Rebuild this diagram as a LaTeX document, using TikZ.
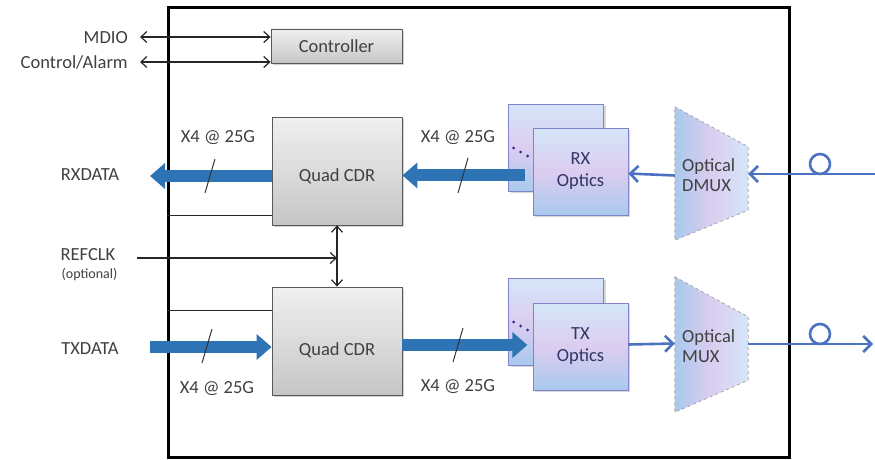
\documentclass[tikz,border=0pt]{standalone}
\usepackage{fontspec}
\setmainfont{Carlito}
\usetikzlibrary{arrows.meta,shadows,calc}

\definecolor{ink}{HTML}{404040}
\definecolor{fatblue}{HTML}{2E74B5}
\definecolor{thinblue}{HTML}{4A72C0}
\definecolor{optlight}{HTML}{D4E6F8}
\definecolor{optmid}{HTML}{DCCDF0}
\definecolor{optdark}{HTML}{A9C9EE}

\tikzset{
  lbl/.style={text=ink, font=\fontsize{18.5}{20}\selectfont, inner sep=0pt},
  small/.style={text=ink, font=\fontsize{14}{16}\selectfont, inner sep=0pt},
  graybox/.style={draw=gray!70!black, line width=0.8pt,
    top color=gray!12, bottom color=gray!45, middle color=gray!28,
    drop shadow={shadow xshift=2pt, shadow yshift=-2pt, opacity=0.35},
    text=ink, font=\fontsize{18.5}{20}\selectfont},
  optbox/.style={draw=gray!60!blue!70, line width=0.8pt,
    top color=optlight, bottom color=optdark, middle color=optmid,
    drop shadow={shadow xshift=2pt, shadow yshift=-2pt, opacity=0.3},
    minimum width=95pt, minimum height=87pt, align=center,
    text=ink!80!blue, font=\fontsize{18.5}{22}\selectfont},
  ctl/.style={draw=black!85, line width=1.2pt},
  dbl/.style={ctl, {Straight Barb[length=6pt,width=11pt]}-{Straight Barb[length=6pt,width=11pt]}},
  single/.style={ctl, -{Straight Barb[length=6pt,width=11pt]}},
  fat/.style={draw=fatblue, line width=12pt, -{Triangle[length=15pt,width=25pt]}},
  slash/.style={draw=black!80, line width=1pt},
  fiber/.style={draw=thinblue, line width=2.6pt, -{Straight Barb[length=8pt,width=16pt]}},
  fiberline/.style={draw=thinblue, line width=2.6pt},
  muxshape/.style={left color=optdark, right color=optlight, middle color=optmid,
    draw=gray!70, dashed, line width=0.8pt},
}

\begin{document}
\begin{tikzpicture}[x=1pt,y=-1pt]
\useasboundingbox[fill=white] (0,0) rectangle (875,460);

% module outline
\node[draw=black, line width=3pt, minimum width=621pt, minimum height=449pt,
      inner sep=0pt] (board) at (478.5,232.5) {};

% controller and the two CDR blocks
\node[graybox, minimum width=131pt, minimum height=34pt] (ctrl) at (336.5,46) {Controller};
\node[graybox, minimum width=130pt, minimum height=108pt] (cdr1) at (337,171) {};
\node[lbl] at (337,176) {Quad CDR};
\node[graybox, minimum width=130pt, minimum height=108pt] (cdr2) at (337,341) {};
\node[lbl] at (337,350) {Quad CDR};

% optics, stacked to show several lanes
\node[optbox] (rxback) at (556,147.5) {};
\node[optbox] (txback) at (556,321.5) {};
\foreach \y in {148,322}{
  \fill[ink!60!blue] (513.5,\y) circle (1.5pt) (520.5,\y+4) circle (1.5pt) (527.5,\y+8) circle (1.5pt);
}

% optical demultiplexer and multiplexer
\node[minimum width=73pt, minimum height=133pt, inner sep=0pt] (dmux) at (711.5,173.5) {};
\path[muxshape] (dmux.north west) -- ($(dmux.north east)+(0,40)$) -- ($(dmux.south east)+(0,-30)$)
  -- (dmux.south west) -- cycle;
\node[lbl, align=left, anchor=west] at (682,175) {Optical\\DMUX};
\node[minimum width=73pt, minimum height=135pt, inner sep=0pt] (mux) at (711.5,344.5) {};
\path[muxshape] (mux.north west) -- ($(mux.north east)+(0,40)$) -- ($(mux.south east)+(0,-32)$)
  -- (mux.south west) -- cycle;
\node[lbl, align=left, anchor=west] at (682,346) {Optical\\MUX};

% outside labels
\node[lbl, anchor=east] (mdio) at (128,38) {MDIO};
\node[lbl, anchor=east] (ctlalarm) at (128,62) {Control/Alarm};
\node[lbl] (rxdata) at (90,175) {RXDATA};
\node[lbl] (refclk) at (88,255) {REFCLK};
\node[small] (opt) at (89.5,275) {(optional)};
\node[lbl] (txdata) at (90,349) {TXDATA};

% management and clock signals
\coordinate (mdioS) at (140,37);
\coordinate (alarmS) at (140,62);
\draw[dbl] (mdioS) -- (mdioS -| ctrl.west);
\draw[dbl] (alarmS) -- (alarmS -| ctrl.west);
\draw[dbl] (cdr1.south) -- (cdr2.north);
\coordinate (refS) at (137,258);
\draw[single] (refS) -- (refS -| cdr1.south);
\draw[ctl] ($(cdr1.south west)+(0,-10)$) coordinate (u) -- (u -| board.west);
\draw[ctl] ($(cdr2.north west)+(0,24)$) coordinate (l) -- (l -| board.west);

% electrical data lanes
\coordinate (rxE) at (150,176);
\coordinate (txS) at (150,347);
\draw[fat] ($(cdr1.west)+(0,5)$) -- (rxE);
\draw[fat] (txS) -- (txS -| cdr2.west);
\draw[fat] ($(rxback.south east)+(-79,-16)$) coordinate (rxS) -- (rxS -| cdr1.east);
\draw[fat, shorten >=0pt] ($(cdr2.east)+(0,4)$) -- ++(125,0) coordinate (txE);

% lane-count marks
\draw[slash] (205,193) -- (215,159);
\draw[slash] (202,363) -- (212,329);
\draw[slash] (458,193) -- (468,158);
\draw[slash] (453,362) -- (463,328);
\node[lbl] at (218,138) {X4 @ 25G};
\node[lbl] at (217,389) {X4 @ 25G};
\node[lbl] at (458,138) {X4 @ 25G};
\node[lbl] at (458,387) {X4 @ 25G};

% front optics drawn over the lane arrows
\node[optbox] (rx) at (580.5,171.5) {RX\\Optics};
\node[optbox] (tx) at (580.5,346.5) {TX\\Optics};

% optical paths
\draw[fiber] ($(dmux.west)+(0,2)$) -- ($(rx.east)+(0,2)$);
\coordinate (fin) at (875,174);
\draw[fiber] (fin) -- (fin -| dmux.east);
\draw[fiber] ($(tx.east)+(0,-2)$) -- ($(mux.west)+(0,-1)$);
\coordinate (fout) at (873,344);
\draw[fiber] ($(mux.east)+(0,-0.5)$) -- (fout);
\draw[fiberline] (820,164) circle (10pt);
\draw[fiberline] (820,334) circle (10pt);
\end{tikzpicture}
\end{document}
